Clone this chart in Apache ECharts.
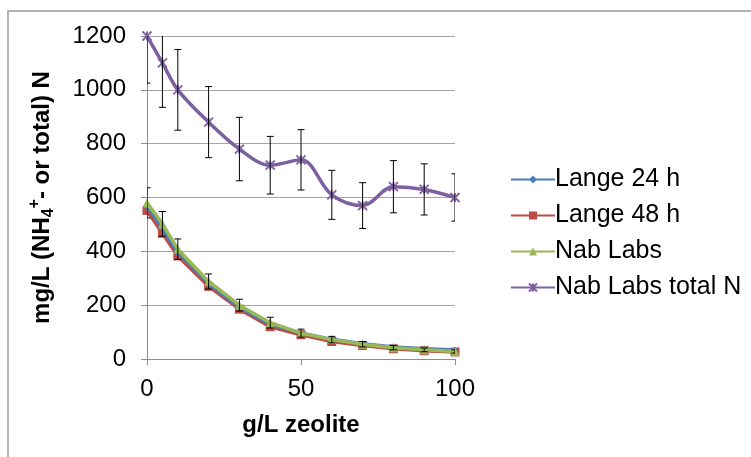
<!DOCTYPE html>
<html>
<head>
<meta charset="utf-8">
<script src="https://cdn.jsdelivr.net/npm/echarts@6/dist/echarts.min.js"></script>
<style>
  html, body { margin: 0; padding: 0; background: #fff; }
  #chart { width: 751px; height: 457px; }
</style>
</head>
<body>
<div id="chart"></div>
<script>
// Zeolite dose (g/L)
const zeoliteDose = [0, 5, 10, 20, 30, 40, 50, 60, 70, 80, 90, 100];

// Ammonium-N measured with Lange cuvette tests after 24 h and 48 h (mg/L)
const lange24 = [568, 485, 395, 280, 192, 128, 97, 73, 57, 45, 38, 33];
const lange48 = [552, 467, 383, 270, 185, 120, 90, 65, 50, 38, 31, 26];

// Ammonium-N and total N from Nab Labs (mg/L) with standard deviations
const nabLabs = [580, 502, 408, 288, 200, 135, 96, 72, 55, 42, 34, 28];
const nabLabsErr = [56, 46, 38, 28, 22, 20, 15, 12, 10, 8, 7, 6];
const nabTotalN = [1200, 1100, 1000, 880, 780, 720, 740, 610, 570, 640, 630, 600];
const nabTotalNErr = [175, 165, 150, 132, 118, 107, 112, 91, 85, 97, 95, 88];

const yTicks = [0, 200, 400, 600, 800, 1000, 1200];
const xTicks = [0, 50, 100];

const FONT = '"Liberation Sans", Arial, sans-serif';
const chart = echarts.init(document.getElementById('chart'), null, { renderer: 'canvas' });

const pairs = (ys) => zeoliteDose.map((x, i) => [x, ys[i]]);
const errRows = (ys, es) => zeoliteDose.map((x, i) => [x, ys[i] - es[i], ys[i] + es[i]]);

function errorBar(params, api) {
  const x = api.value(0);
  const lo = api.coord([x, api.value(1)]);
  const hi = api.coord([x, api.value(2)]);
  const hw = 3.5;
  const st = { stroke: '#000', lineWidth: 1 };
  return {
    type: 'group',
    children: [
      { type: 'line', shape: { x1: hi[0], y1: hi[1], x2: lo[0], y2: lo[1] }, style: st },
      { type: 'line', shape: { x1: hi[0] - hw, y1: hi[1], x2: hi[0] + hw, y2: hi[1] }, style: st },
      { type: 'line', shape: { x1: lo[0] - hw, y1: lo[1], x2: lo[0] + hw, y2: lo[1] }, style: st }
    ]
  };
}

// Excel-style star marker: an x with a vertical stroke
const starPath = 'path://M0,0L10,10M10,0L0,10M5,0L5,10';

const option = {
  backgroundColor: '#fff',
  animation: false,
  graphic: [{
    type: 'rect',
    shape: { x: 8, y: 11, width: 800, height: 500 },
    style: { fill: 'none', stroke: '#9a9a9a', lineWidth: 1.5 },
    silent: true
  }],
  grid: { left: 147, right: 296, top: 36, bottom: 98, containLabel: false },
  legend: {
    orient: 'vertical',
    left: 505,
    top: 162,
    itemWidth: 44,
    itemHeight: 10,
    itemGap: 11,
    textStyle: { fontFamily: FONT, fontSize: 25, lineHeight: 25, color: '#000', padding: [0, 0, 0, -5] },
    data: ['Lange 24 h', 'Lange 48 h', 'Nab Labs', 'Nab Labs total N']
  },
  xAxis: {
    type: 'value',
    min: 0, max: 100, interval: 50,
    name: 'g/L zeolite',
    nameLocation: 'middle',
    nameGap: 54,
    nameTextStyle: { fontFamily: FONT, fontSize: 24, fontWeight: 'bold', color: '#000' },
    axisLine: { lineStyle: { color: '#8c8c8c', width: 1 } },
    axisTick: { show: true, length: 6, lineStyle: { color: '#8c8c8c' } },
    axisLabel: { fontFamily: FONT, fontSize: 24, color: '#000', margin: 18,
                 formatter: (v) => xTicks.includes(v) ? String(v) : '' },
    splitLine: { show: false }
  },
  yAxis: {
    type: 'value',
    min: 0, max: 1200, interval: 200,
    name: '{b|mg/L (NH}{sub|4}{sup|+}{b|- or total) N}',
    nameLocation: 'middle',
    nameRotate: 90,
    nameGap: 90,
    nameTextStyle: {
      fontFamily: FONT, fontSize: 24, fontWeight: 'bold', color: '#000',
      rich: {
        b: { fontFamily: FONT, fontSize: 24, fontWeight: 'bold', color: '#000', lineHeight: 30, verticalAlign: 'middle' },
        sub: { fontFamily: FONT, fontSize: 16, fontWeight: 'bold', color: '#000', lineHeight: 30, verticalAlign: 'bottom' },
        sup: { fontFamily: FONT, fontSize: 16, fontWeight: 'bold', color: '#000', lineHeight: 30, verticalAlign: 'top' }
      }
    },
    axisLine: { show: true, lineStyle: { color: '#8c8c8c', width: 1 } },
    axisTick: { show: true, length: 6, lineStyle: { color: '#8c8c8c' } },
    axisLabel: { fontFamily: FONT, fontSize: 24, color: '#000', margin: 21,
                 formatter: (v) => yTicks.includes(v) ? String(v) : '' },
    splitLine: { show: true, lineStyle: { color: '#a6a6a6', width: 1.2 } }
  },
  series: [
    {
      name: 'Lange 24 h', type: 'line', data: pairs(lange24),
      symbol: 'diamond', symbolSize: 7, showAllSymbol: true,
      lineStyle: { color: '#4a7ebb', width: 3.5 },
      itemStyle: { color: '#4a7ebb' }, z: 3
    },
    {
      name: 'Lange 48 h', type: 'line', data: pairs(lange48),
      symbol: 'rect', symbolSize: 9, showAllSymbol: true,
      lineStyle: { color: '#be4b48', width: 3.5 },
      itemStyle: { color: '#be4b48' }, z: 2
    },
    {
      name: 'Nab Labs', type: 'line', data: pairs(nabLabs),
      symbol: 'triangle', symbolSize: 9, showAllSymbol: true,
      lineStyle: { color: '#98b954', width: 3.5 },
      itemStyle: { color: '#98b954' }, z: 4
    },
    {
      name: 'Nab Labs total N', type: 'line', data: pairs(nabTotalN),
      smooth: 0.35,
      symbol: starPath, symbolSize: 9, showAllSymbol: true,
      lineStyle: { color: '#7d60a0', width: 3.5 },
      itemStyle: { color: 'none', borderColor: '#7d60a0', borderWidth: 1.8 },
      z: 4
    },
    {
      name: 'errNab', type: 'custom', data: errRows(nabLabs, nabLabsErr),
      renderItem: errorBar, clip: true, silent: true, z: 5,
      encode: { x: 0, y: [1, 2] }
    },
    {
      name: 'errTotal', type: 'custom', data: errRows(nabTotalN, nabTotalNErr),
      renderItem: errorBar, clip: true, silent: true, z: 5,
      encode: { x: 0, y: [1, 2] }
    }
  ]
};

chart.setOption(option);
</script>
</body>
</html>
